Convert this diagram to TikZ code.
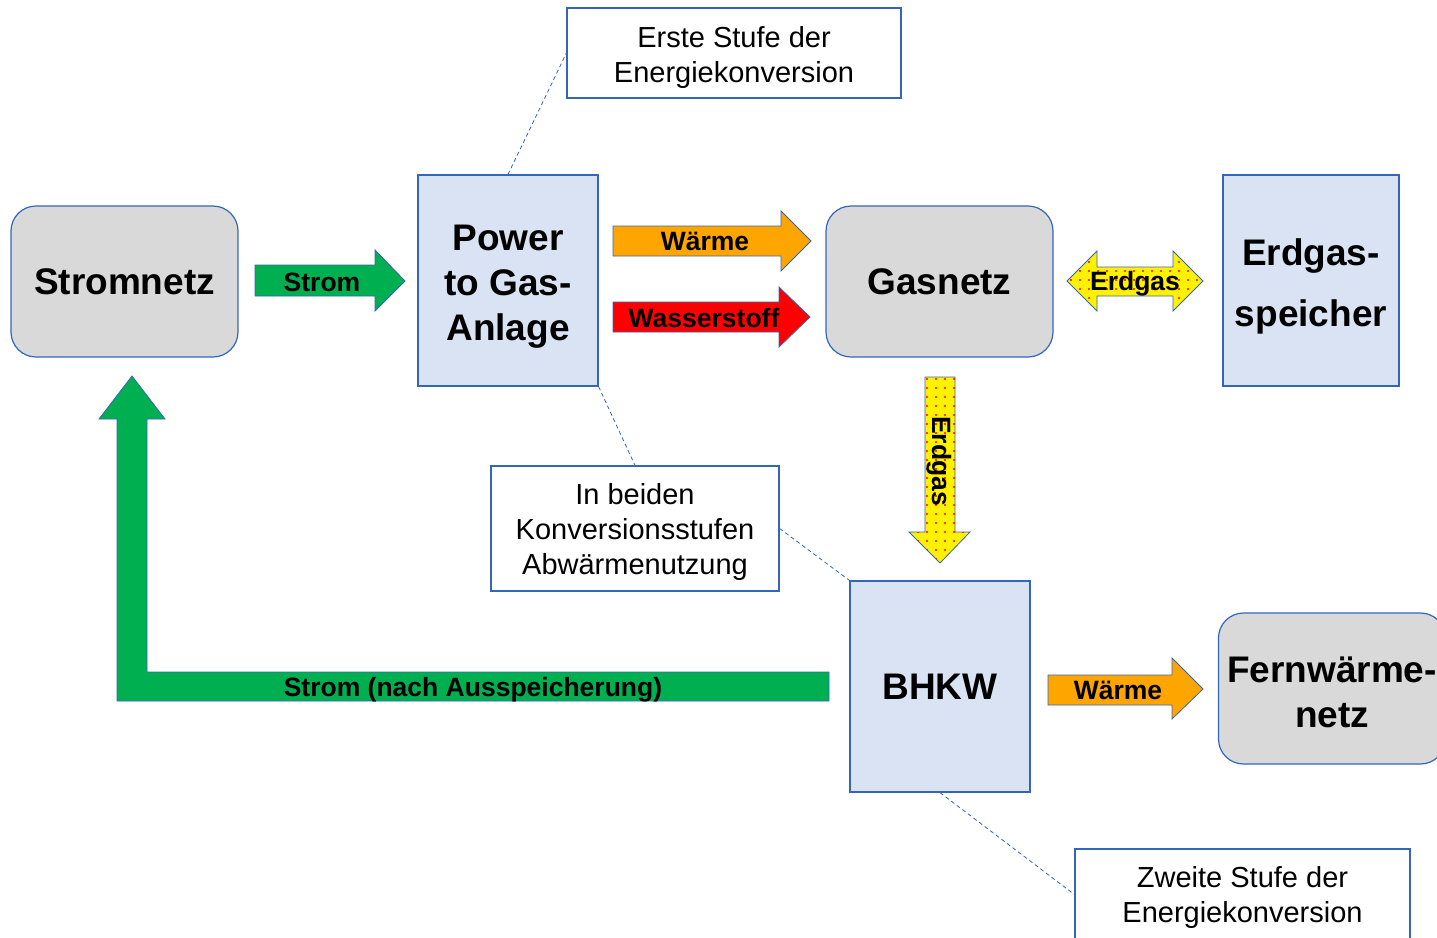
\documentclass[tikz,border=0pt]{standalone}
\usepackage{fontspec}
\setmainfont{Liberation Sans}
\usetikzlibrary{patterns,patterns.meta}
\definecolor{rand}{HTML}{3366BB}
\definecolor{hellblau}{HTML}{DAE3F3}
\definecolor{hellgrau}{HTML}{D9D9D9}
\definecolor{gruen}{HTML}{00B050}
\definecolor{waerme}{HTML}{FFA500}
\newcommand{\oben}[1]{\rule{0pt}{#1}}
\tikzset{
  netz/.style={draw=rand,fill=hellgrau,rounded corners=25pt,line width=1.2pt,minimum width=227pt,minimum height=151pt,inner sep=2pt,align=center,font=\fontsize{37}{45}\selectfont\bfseries},
  anlage/.style={draw=rand,fill=hellblau,line width=1.2pt,minimum width=180pt,minimum height=211pt,inner sep=2pt,align=center,font=\fontsize{37}{45}\selectfont\bfseries},
  notiz/.style={draw=rand,fill=white,line width=1.2pt,align=center,font=\fontsize{29}{35}\selectfont},
  pfeil/.style={draw=rand,line width=0.8pt},
  pfeiltext/.style={font=\fontsize{26.5}{30}\selectfont\bfseries,inner sep=0pt},
  gasmuster/.style={fill=yellow,postaction={pattern={Dots[distance=9pt,radius=1.1pt]},pattern color=red}},
  hinweis/.style={draw=rand,line width=0.8pt,dash pattern=on 4pt off 3pt}
}
\begin{document}
\begin{tikzpicture}[x=1pt,y=-1pt]
\useasboundingbox (0,0) rectangle (1437,937);
% Kaesten
\node[netz] (strom) at (124.5,281.5) {Stromnetz};
\node[anlage] (p2g) at (508,280.5) {\oben{38.5pt}Power\\to Gas-\\Anlage};
\node[netz] (gas) at (939.5,281.5) {Gasnetz};
\node[anlage,minimum width=176pt,font=\fontsize{37}{61}\selectfont\bfseries] (speicher) at (1311,280.5) {\oben{39pt}Erdgas-\\speicher};
\node[anlage] (bhkw) at (940,686.5) {BHKW};
\node[netz] (fern) at (1332,688.5) {\oben{33pt}Fernwärme-\\netz};
% Hinweise
\node[notiz,minimum width=334pt,minimum height=90pt] (erste) at (734,53) {\oben{31pt}Erste Stufe der\\Energiekonversion};
\node[notiz,minimum width=288pt,minimum height=125pt] (beide) at (635,528.5) {\oben{27pt}In beiden\\Konversionsstufen\\Abwärmenutzung};
\node[notiz,minimum width=335pt,minimum height=91pt] (zweite) at (1242.5,894.5) {\oben{27pt}Zweite Stufe der\\Energiekonversion};
\draw[hinweis] (p2g.north) -- (erste.west);
\draw[hinweis] (p2g.south east) -- (beide.north);
\draw[hinweis] (beide.east) -- (bhkw.north west);
\draw[hinweis] (bhkw.south) -- (zweite.west);
% Pfeile
\draw[pfeil,fill=gruen] (255,265) -- (375,265) -- (375,250) -- (405,281) -- (375,311) -- (375,296) -- (255,296) -- cycle;
\node[pfeiltext] (lstrom) at (322,282) {Strom};
\draw[pfeil,fill=waerme] (613,226) -- (781,226) -- (781,211) -- (811,241) -- (781,271) -- (781,256) -- (613,256) -- cycle;
\node[pfeiltext] (lwaerme) at (705,241) {Wärme};
\draw[pfeil,fill=red] (613,302) -- (779,302) -- (779,287) -- (810,317) -- (779,347) -- (779,332) -- (613,332) -- cycle;
\node[pfeiltext] (lwasser) at (704,318) {Wasserstoff};
\draw[pfeil,gasmuster] (1067,281) -- (1097,251) -- (1097,267) -- (1173,267) -- (1173,251) -- (1203,281) -- (1173,311) -- (1173,296) -- (1097,296) -- (1097,311) -- cycle;
\node[pfeiltext] (lerdgas) at (1135,284) {Erdgas};
\draw[pfeil,gasmuster] (925,377) -- (955,377) -- (955,532) -- (970,532) -- (940,563) -- (909,532) -- (925,532) -- cycle;
\node[pfeiltext,rotate=-90] (lerdgas2) at (939,461) {Erdgas};
\draw[pfeil,fill=waerme] (1048,675) -- (1172,675) -- (1172,658) -- (1203,689) -- (1172,719) -- (1172,705) -- (1048,705) -- cycle;
\node[pfeiltext] (lwaerme2) at (1118,690) {Wärme};
\draw[pfeil,fill=gruen] (829,672) -- (147,672) -- (147,419) -- (165,419) -- (132,376) -- (99,419) -- (117,419) -- (117,701) -- (829,701) -- cycle;
\node[pfeiltext] (lrueck) at (473,690) {Strom (nach Ausspeicherung)};
\end{tikzpicture}
\end{document}
